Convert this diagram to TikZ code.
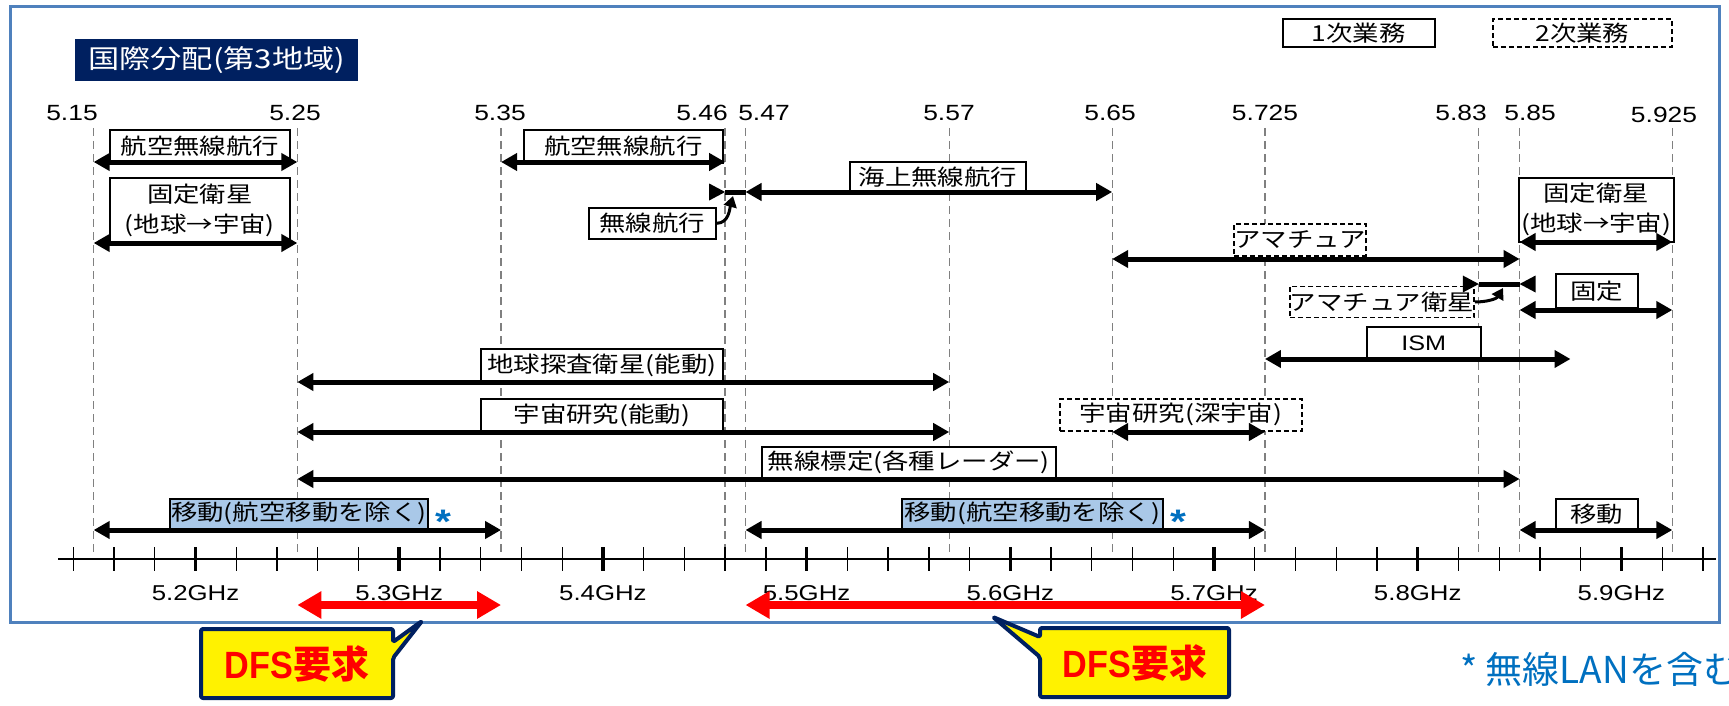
\documentclass[tikz,border=0pt]{standalone}
\usepackage{fontspec}
\setmainfont{Liberation Sans}[FakeStretch=1.2]
\newfontfamily\jp{Noto Sans CJK JP}[FakeStretch=1.2]
\newfontfamily\jpn{Noto Sans CJK JP}
\newfontfamily\lsn{Liberation Sans}[FakeStretch=0.9]
\usetikzlibrary{arrows.meta}
\definecolor{frameblue}{RGB}{79,129,189}
\definecolor{navy}{RGB}{0,32,96}
\definecolor{dashgray}{RGB}{128,128,128}
\definecolor{lightblue}{RGB}{169,200,232}
\definecolor{starblue}{RGB}{0,112,192}
\def\F#1{195.5+(#1-5.2)*2037}
\tikzset{
  vline/.style={draw=dashgray, line width=1.3pt, dash pattern=on 8pt off 5pt},
  lbl/.style={draw=black, line width=1.6pt, fill=white, inner sep=0pt, font=\jp\fontsize{22}{25}\selectfont, text=black},
  lbld/.style={lbl, dash pattern=on 5pt off 3pt},
  band/.style={line width=5pt, arrows={Triangle[length=16pt,width=17pt]-Triangle[length=16pt,width=17pt]}},
  rband/.style={draw=red, line width=8pt, arrows={Triangle[length=24pt,width=26pt]-Triangle[length=24pt,width=26pt]}},
  freq/.style={font=\fontsize{22}{25}\selectfont, inner sep=0pt},
  ghz/.style={font=\fontsize{21.5}{25}\selectfont, inner sep=0pt},
  star/.style={anchor=base, font=\bfseries\fontsize{34}{36}\selectfont, text=starblue, inner sep=0pt},
  callout/.style={draw=navy, fill=yellow, line width=4pt, line join=round, rounded corners=2pt},
  dfstext/.style={font=\lsn\bfseries\fontsize{38}{40}\selectfont, text=red, inner sep=0pt},
  curvarrow/.style={line width=3pt, arrows={-Triangle[length=11pt,width=13pt]}}
}
\begin{document}
\begin{tikzpicture}[x=1pt,y=-1pt]
\useasboundingbox (0,0) rectangle (1729,706);
\fill[white] (0,0) rectangle (1729,706);
% frame
\draw[frameblue, line width=3pt] (10,7) rectangle (1719,622);
% title
\node[fill=navy, text=white, minimum width=283, minimum height=42, anchor=north west, inner sep=0pt, font=\jp\fontsize{26}{28}\selectfont] (title) at (75,39) {国際分配(第3地域)};
% legend
\node[lbl, minimum width=152, minimum height=28, anchor=north west] (leg1) at (1282,18) {1次業務};
\node[lbld, minimum width=179, minimum height=28, anchor=north west] (leg2) at (1492,18) {2次業務};
% dashed frequency lines
\foreach \f in {5.15,5.25,5.35,5.46,5.47,5.57,5.65,5.725,5.83,5.85,5.925}
  \draw[vline] ({\F{\f}},128) -- ({\F{\f}},553);
% frequency labels
\node[freq] (n515) at (72,113) {5.15};
\node[freq] (n525) at (295,113) {5.25};
\node[freq] (n535) at (500,113) {5.35};
\node[freq] (n546) at (702,113) {5.46};
\node[freq] (n547) at (764,113) {5.47};
\node[freq] (n557) at (949,113) {5.57};
\node[freq] (n565) at (1110,113) {5.65};
\node[freq] (n5725) at (1265,113) {5.725};
\node[freq] (n583) at (1461,113) {5.83};
\node[freq] (n585) at (1530,113) {5.85};
\node[freq] (n5925) at (1664,115) {5.925};
% label boxes
\node[lbl, minimum width=180, minimum height=33, anchor=north west] (aero1) at (109,129) {航空無線航行};
\node[lbl, minimum width=199, minimum height=33, anchor=north west] (aero2) at (523,129) {航空無線航行};
\node[lbl, minimum width=176, minimum height=31, anchor=north west] (mari) at (849,161) {海上無線航行};
\node[lbl, minimum width=127, minimum height=31, anchor=north west] (rnav) at (588,207) {無線航行};
\node[lbl, minimum width=180, minimum height=66, anchor=north west, align=center, font=\jp\fontsize{22}{30}\selectfont] (fss1) at (109,177) {固定衛星\\(地球→宇宙)};
\node[lbl, minimum width=155, minimum height=64, anchor=north west, align=center, font=\jp\fontsize{22}{30}\selectfont] (fss2) at (1518,177) {固定衛星\\(地球→宇宙)};
\node[lbld, inner xsep=0pt, minimum height=32] (ama) at (1300,240) {アマチュア};
\node[lbld, inner xsep=0pt, minimum height=31] (amasat) at (1382,302) {アマチュア衛星};
\node[lbl, minimum width=82, minimum height=34, anchor=north west] (fixed) at (1555,273) {固定};
\node[lbl, minimum width=114, minimum height=32, anchor=north west, font=\fontsize{21}{25}\selectfont] (ism) at (1366,326) {ISM};
\node[lbl, minimum width=242, minimum height=33, anchor=north west] (eess) at (480,348) {地球探査衛星(能動)};
\node[lbl, minimum width=242, minimum height=33, anchor=north west] (sr) at (480,398) {宇宙研究(能動)};
\node[lbld, minimum width=242, minimum height=32, anchor=north west] (srds) at (1059,398) {宇宙研究(深宇宙)};
\node[lbl, minimum width=294, minimum height=32, anchor=north west] (radl) at (761,446) {無線標定(各種レーダー)};
\node[lbl, fill=lightblue, minimum width=258, minimum height=30, anchor=north west] (mob1) at (169,498) {移動(航空移動を除く)};
\node[lbl, fill=lightblue, minimum width=261, minimum height=30, anchor=north west] (mob2) at (901,498) {移動(航空移動を除く)};
\node[lbl, minimum width=82, minimum height=30, anchor=north west] (mob3) at (1555,498) {移動};
\node[star] (st1) at (443,533) {*};
\node[star] (st2) at (1178,533) {*};
% band arrows
\draw[band] ({\F{5.15}},162) -- ({\F{5.25}},162);
\draw[band] ({\F{5.35}},162) -- ({\F{5.46}},162);
\draw[band] ({\F{5.47}},192) -- ({\F{5.65}},192);
\draw[band] ({\F{5.15}},243) -- ({\F{5.25}},243);
\draw[band] ({\F{5.85}},242) -- ({\F{5.925}},242);
\draw[band] ({\F{5.65}},259) -- ({\F{5.85}},259);
\draw[band] ({\F{5.85}},310) -- ({\F{5.925}},310);
\draw[band] ({\F{5.725}},359) -- ({\F{5.875}},359);
\draw[band] ({\F{5.25}},382) -- ({\F{5.57}},382);
\draw[band] ({\F{5.25}},432) -- ({\F{5.57}},432);
\draw[band] ({\F{5.65}},432) -- ({\F{5.725}},432);
\draw[band] ({\F{5.25}},479) -- ({\F{5.85}},479);
\draw[band] ({\F{5.15}},530) -- ({\F{5.35}},530);
\draw[band] ({\F{5.47}},530) -- ({\F{5.725}},530);
\draw[band] ({\F{5.85}},530) -- ({\F{5.925}},530);
% narrow bands
\draw[line width=5pt] ({\F{5.46}},192) -- ({\F{5.47}},192);
\fill ({\F{5.46}-16},183.5) -- ({\F{5.46}},192) -- ({\F{5.46}-16},200.5) -- cycle;
\draw[line width=5pt] ({\F{5.83}},284) -- ({\F{5.85}},284);
\fill ({\F{5.83}-16},275.5) -- ({\F{5.83}},284) -- ({\F{5.83}-16},292.5) -- cycle;
\fill ({\F{5.85}+16},275.5) -- ({\F{5.85}},284) -- ({\F{5.85}+16},292.5) -- cycle;
\coordinate (rnavtip) at (733,196);
\coordinate (amatip) at (1503,288);
\draw[curvarrow] (rnav.east) to[out=0, in=-105] (rnavtip);
\draw[curvarrow] (amasat.east) to[out=0, in=-120] (amatip);
% axis
\draw[line width=2.5pt] (58,559) -- (1716,559);
\foreach \i in {0,...,40}{
  \pgfmathtruncatemacro\m{mod(\i+2,5)}
  \ifnum\m=0
    \draw[line width=3.5pt] ({73.3+\i*40.74},547) -- ++(0,24);
  \else
    \draw[line width=1.3pt] ({73.3+\i*40.74},547) -- ++(0,24);
  \fi
}
\node[ghz] (g52) at ({\F{5.2}},593) {5.2GHz};
\node[ghz] (g53) at ({\F{5.3}},593) {5.3GHz};
\node[ghz] (g54) at ({\F{5.4}},593) {5.4GHz};
\node[ghz] (g55) at ({\F{5.5}},593) {5.5GHz};
\node[ghz] (g56) at ({\F{5.6}},593) {5.6GHz};
\node[ghz] (g57) at ({\F{5.7}},593) {5.7GHz};
\node[ghz] (g58) at ({\F{5.8}},593) {5.8GHz};
\node[ghz] (g59) at ({\F{5.9}},593) {5.9GHz};
% red DFS arrows
\draw[rband] ({\F{5.25}},605) -- ({\F{5.35}},605);
\draw[rband] ({\F{5.47}},605) -- ({\F{5.725}},605);
% callouts
\draw[callout] (201,629) -- (393,629) -- (393,642) -- (422,621) -- (393,658) -- (393,698) -- (201,698) -- cycle;
\node[dfstext] (dfs1) at (297,664) {DFS{\jpn 要求}};
\draw[callout] (1040,628) -- (1229,628) -- (1229,697) -- (1040,697) -- (1040,657) -- (993,617) -- (1040,637) -- cycle;
\node[dfstext] (dfs2) at (1135,663) {DFS{\jpn 要求}};
% footnote
\node[anchor=base west, inner sep=0pt, font=\jpn\fontsize{37}{40}\selectfont, text=starblue] (fn) at (1460,683) {* 無線LANを含む};
\end{tikzpicture}
\end{document}
